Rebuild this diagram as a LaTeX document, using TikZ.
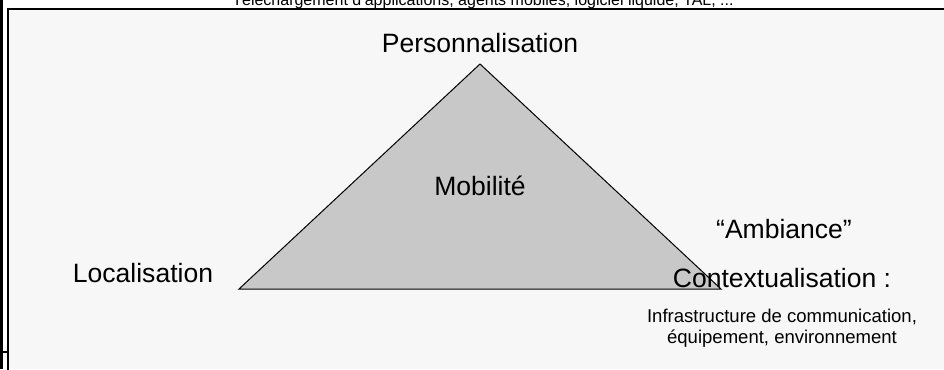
\documentclass[tikz,border=0pt]{standalone}
\usepackage{fontspec}
\setmainfont{Liberation Sans}
\usetikzlibrary{positioning}
\definecolor{panelgray}{HTML}{F7F7F7}
\definecolor{trigray}{HTML}{C8C8C8}

\begin{document}
\begin{tikzpicture}[
        x=0.75pt, y=-0.75pt,
        biglabel/.style={inner sep=0pt, anchor=base, font=\fontsize{19.9}{23}\selectfont},
        smalllabel/.style={inner sep=0pt, anchor=base, font=\fontsize{13.9}{16}\selectfont},
        toplabel/.style={inner sep=0pt, anchor=base, font=\fontsize{12}{14}\selectfont}
    ]
        \useasboundingbox (0,0) rectangle (944,369);
        \clip (0,0) rectangle (944,369);

        % Page frame
        \fill[white] (0,0) rectangle (944,369);
        \fill[black] (0,0) rectangle (2.5,369);
        \draw[line width=0.8pt] (0,352) -- (8,352);
        \fill[panelgray] (8,9) rectangle (944,369);
        \draw[line width=1pt] (8,370) -- (8,9) -- (945,9);

        % Title (cut at the top)
        \node[toplabel] (title) at (483,5) {Téléchargement d’applications, agents mobiles, logiciel liquide, TAL, ...};

        % Triangle
        \coordinate (apex) at (480,64);
        \coordinate (baseleft) at (239,289);
        \coordinate (baseright) at (721,289);
        \draw[fill=trigray, line width=0.75pt] (apex) -- (baseright) -- (baseleft) -- cycle;

        % Corner labels
        \node[biglabel] (perso) at (480,52) {Personnalisation};
        \node[biglabel] (mobil) at (480,195) {Mobilité};
        \node[biglabel] (local) at (143,282) {Localisation};
        \node[biglabel] (ambiance) at (784,238) {“Ambiance”};
        \node[biglabel] (context) at (782,287) {Contextualisation :};

        % Details under contextualisation
        \node[smalllabel] (infra) at (782,322) {Infrastructure de communication,};
        \node[smalllabel] (equip) at (782,343) {équipement, environnement};

    \end{tikzpicture}
\end{document}
